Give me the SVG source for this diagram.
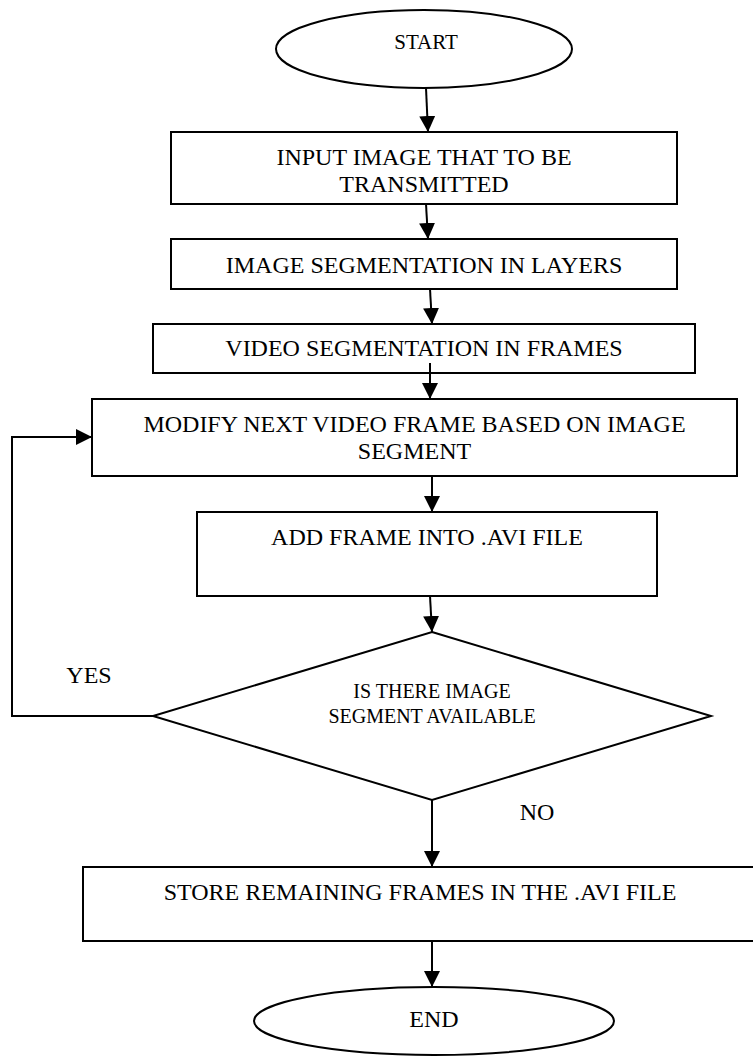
<svg xmlns="http://www.w3.org/2000/svg" width="753" height="1057" viewBox="0 0 753 1057">
<style>
.s{fill:#fff;stroke:#000;stroke-width:2}
.t{font-family:"Liberation Serif","Times New Roman",serif;font-size:24px;fill:#000;text-anchor:middle}
.d{font-size:20px}
.st{font-size:21px}
.c{fill:none;stroke:#000;stroke-width:2}
</style>
<defs>
<marker id="ah" markerUnits="userSpaceOnUse" markerWidth="16" markerHeight="16" refX="16" refY="8" orient="auto">
<path d="M0,0 L16,8 L0,16 Z" fill="#000"/>
</marker>
</defs>
<rect width="753" height="1057" fill="#fff"/>
<g id="start"><ellipse class="s" cx="424" cy="49" rx="148" ry="39"/><text class="t st" x="426" y="49">START</text></g>
<g id="input"><rect class="s" x="171" y="132" width="506" height="72"/><text class="t" x="424" y="165">INPUT IMAGE THAT TO BE</text><text class="t" x="424" y="192">TRANSMITTED</text></g>
<g id="imgseg"><rect class="s" x="171" y="239" width="506" height="50"/><text class="t" x="424" y="273">IMAGE SEGMENTATION IN LAYERS</text></g>
<g id="vidseg"><rect class="s" x="153" y="324" width="542" height="49"/><text class="t" x="424" y="356">VIDEO SEGMENTATION IN FRAMES</text></g>
<g id="modify"><rect class="s" x="92" y="399" width="645" height="77"/><text class="t" x="414.5" y="432">MODIFY NEXT VIDEO FRAME BASED ON IMAGE</text><text class="t" x="414.5" y="459">SEGMENT</text></g>
<g id="add"><rect class="s" x="197" y="512" width="460" height="84"/><text class="t" x="427" y="545">ADD FRAME INTO .AVI FILE</text></g>
<g id="decision"><polygon class="s" points="432,632 711,716 432,800 153,716"/><text class="t d" x="432" y="698">IS THERE IMAGE</text><text class="t d" x="432" y="723">SEGMENT AVAILABLE</text></g>
<g id="store"><rect class="s" x="83" y="867" width="672" height="74"/><text class="t" x="420" y="900">STORE REMAINING FRAMES IN THE .AVI FILE</text></g>
<g id="end"><ellipse class="s" cx="434" cy="1021" rx="180" ry="34"/><text class="t" x="434" y="1027">END</text></g>
<g id="labels"><text class="t" x="89" y="683">YES</text><text class="t" x="537" y="820">NO</text></g>
<g id="connectors">
<path class="c" d="M426,88 L428,132" marker-end="url(#ah)"/>
<path class="c" d="M426,204 L428,239" marker-end="url(#ah)"/>
<path class="c" d="M430,289 L432,324" marker-end="url(#ah)"/>
<path class="c" d="M430,363 L430,399" marker-end="url(#ah)"/>
<path class="c" d="M432,476 L432,512" marker-end="url(#ah)"/>
<path class="c" d="M430,596 L432,632" marker-end="url(#ah)"/>
<path class="c" d="M153,716 L12,716 L12,437 L92,437" marker-end="url(#ah)"/>
<path class="c" d="M432,800 L432,867" marker-end="url(#ah)"/>
<path class="c" d="M432,941 L432,987" marker-end="url(#ah)"/>
</g>
</svg>
